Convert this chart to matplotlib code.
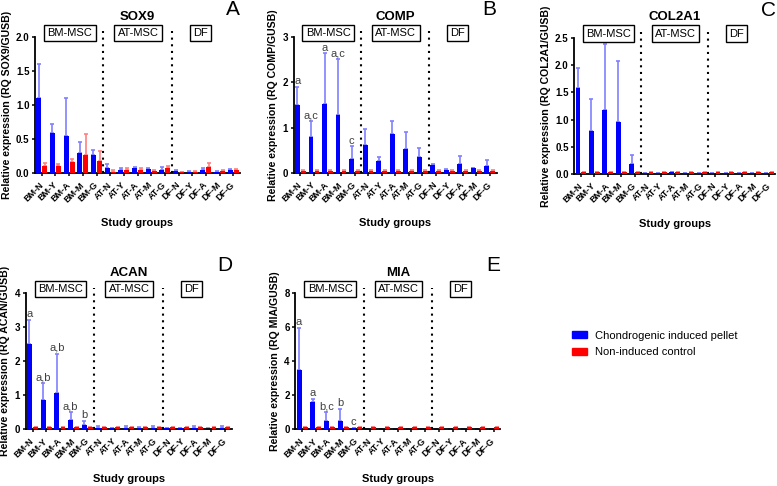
import matplotlib
matplotlib.use('Agg')
import matplotlib.pyplot as plt
import matplotlib.transforms as mtransforms
import numpy as np
from matplotlib.patches import Patch

plt.rcParams['font.family'] = ['Liberation Sans', 'DejaVu Sans']

groups = ['BM-N', 'BM-Y', 'BM-A', 'BM-M', 'BM-G',
          'AT-N', 'AT-Y', 'AT-A', 'AT-M', 'AT-G',
          'DF-N', 'DF-Y', 'DF-A', 'DF-M', 'DF-G']
cell_types = ['BM-MSC', 'AT-MSC', 'DF']
legend_labels = ['Chondrogenic induced pellet', 'Non-induced control']

# SOX9
sox9_ind = [1.10, 0.59, 0.54, 0.29, 0.26, 0.08, 0.05, 0.07, 0.06, 0.05, 0.03, 0.02, 0.05, 0.02, 0.04]
sox9_ind_sd = [0.50, 0.13, 0.56, 0.16, 0.08, 0.05, 0.02, 0.02, 0.02, 0.04, 0.02, 0.01, 0.03, 0.01, 0.02]
sox9_ctl = [0.10, 0.10, 0.16, 0.26, 0.17, 0.02, 0.05, 0.04, 0.03, 0.07, 0.01, 0.02, 0.09, 0.03, 0.04]
sox9_ctl_sd = [0.05, 0.03, 0.05, 0.32, 0.16, 0.02, 0.03, 0.04, 0.02, 0.04, 0.01, 0.01, 0.05, 0.02, 0.02]

# COMP
comp_ind = [1.49, 0.79, 1.53, 1.29, 0.32, 0.61, 0.27, 0.86, 0.54, 0.36, 0.17, 0.07, 0.19, 0.10, 0.16]
comp_ind_sd = [0.41, 0.36, 1.11, 1.23, 0.27, 0.36, 0.08, 0.28, 0.37, 0.19, 0.03, 0.02, 0.18, 0.01, 0.13]
comp_ctl = [0.05] * 15
comp_ctl_sd = [0.01] * 15
comp_letters = ['a', 'a,c', 'a', 'a,c', 'c']

# COL2A1
col2a1_ind = [1.58, 0.79, 1.17, 0.96, 0.18, 0.01, 0.01, 0.03, 0.01, 0.01, 0.01, 0.01, 0.01, 0.01, 0.01]
col2a1_ind_sd = [0.36, 0.59, 1.21, 1.12, 0.16, 0.005, 0.005, 0.01, 0.005, 0.005, 0.005, 0.005, 0.005, 0.005, 0.005]
col2a1_ctl = [0.04] * 15
col2a1_ctl_sd = [0.005] * 15

# ACAN
acan_ind = [2.51, 0.85, 1.05, 0.26, 0.13, 0.04, 0.02, 0.03, 0.03, 0.03, 0.02, 0.02, 0.04, 0.01, 0.03]
acan_ind_sd = [0.71, 0.50, 1.17, 0.24, 0.12, 0.04, 0.01, 0.05, 0.04, 0.05, 0.01, 0.02, 0.05, 0.01, 0.05]
acan_ctl = [0.06] * 15
acan_ctl_sd = [0.01] * 15
acan_letters = ['a', 'a,b', 'a,b', 'a,b', 'b']

# MIA
mia_ind = [3.47, 1.58, 0.45, 0.49, 0.06, 0.01, 0.01, 0.01, 0.01, 0.01, 0.01, 0.01, 0.01, 0.01, 0.01]
mia_ind_sd = [2.50, 0.22, 0.55, 0.70, 0.01, 0.0, 0.0, 0.0, 0.0, 0.0, 0.0, 0.0, 0.0, 0.0, 0.0]
mia_ctl = [0.10] * 15
mia_ctl_sd = [0.01] * 15
mia_letters = ['a', 'a', 'b,c', 'b', 'c']

BLUE = '#0000ff'
RED = '#ff0000'
BLUE_ERR = '#8080ff'
RED_ERR = '#ff8080'


def draw_panel(ax, gene, letter, ind, ind_sd, ctl, ctl_sd, yticks, fmt, letters=None):
    """One GraphPad-style bar panel with group boxes and separators"""
    x = np.arange(len(groups))
    off, w = 0.22, 0.36
    ax.bar(x - off, ind, width=w, color=BLUE, zorder=3)
    ax.bar(x + off, ctl, width=w, color=RED, zorder=3)
    ax.errorbar(x - off, ind, yerr=[np.zeros(len(ind)), ind_sd], fmt='none',
                ecolor=BLUE_ERR, elinewidth=1.2, capsize=1.5, capthick=1.2, zorder=2)
    ax.errorbar(x + off, ctl, yerr=[np.zeros(len(ctl)), ctl_sd], fmt='none',
                ecolor=RED_ERR, elinewidth=1.2, capsize=1.5, capthick=1.2, zorder=2)

    ax.set_xlim(-0.5, len(groups) - 0.5)
    ax.set_ylim(0, yticks[-1])
    ax.set_yticks(yticks)
    ax.set_yticklabels([fmt.format(t) for t in yticks], fontweight='bold', fontsize=7)
    ax.set_xticks(x)
    ax.set_xticklabels(groups, rotation=45, ha='right', va='center', rotation_mode='anchor',
                       fontweight='bold', fontsize=6.5)
    ax.tick_params(width=1.1, length=2.5, pad=1.5)
    ax.tick_params(axis='x', pad=5)

    for s in ['top', 'right']:
        ax.spines[s].set_visible(False)
    for s in ['left', 'bottom']:
        ax.spines[s].set_linewidth(1.3)

    ax.set_ylabel('Relative expression (RQ %s/GUSB)' % gene, fontweight='bold',
                  fontsize=7.6, labelpad=3)
    ax.set_xlabel('Study groups', fontweight='bold', fontsize=8)
    ax.xaxis.set_label_coords(0.5, -0.33)

    # separators between cell types
    for xs in [4.5, 9.5]:
        ax.axvline(xs, ymin=0, ymax=1.04, color='black', lw=1.5,
                   linestyle=(0, (1, 2.2)), clip_on=False, zorder=1)

    trans = mtransforms.blended_transform_factory(ax.transData, ax.transAxes)
    for name, xc in zip(cell_types, [2.05, 7.05, 11.6]):
        ax.text(xc, 1.03, name, transform=trans, ha='center', va='center', fontsize=8,
                bbox=dict(boxstyle='square,pad=0.3', fc='white', ec='black', lw=1.0),
                zorder=5, clip_on=False)

    ax.text(0.5, 1.15, gene, transform=ax.transAxes, ha='center', va='center',
            fontsize=9.5, fontweight='bold')
    ax.text(0.965, 1.2, letter, transform=ax.transAxes, ha='center', va='center',
            fontsize=15)

    if letters:
        for i, lab in enumerate(letters):
            ax.annotate(lab, (x[i] - off, ind[i] + ind_sd[i]), xytext=(0, 0.5),
                        textcoords='offset points', ha='center', va='bottom',
                        fontsize=8, color='#404040')


fig = plt.figure(figsize=(7.77, 4.86), dpi=100)

ax_a = fig.add_axes([0.045, 0.644, 0.264, 0.280])
ax_b = fig.add_axes([0.378, 0.644, 0.261, 0.280])
ax_c = fig.add_axes([0.739, 0.642, 0.259, 0.280])
ax_d = fig.add_axes([0.033, 0.117, 0.265, 0.280])
ax_e = fig.add_axes([0.380, 0.117, 0.264, 0.280])

draw_panel(ax_a, 'SOX9', 'A', sox9_ind, sox9_ind_sd, sox9_ctl, sox9_ctl_sd,
           [0, 0.5, 1.0, 1.5, 2.0], '{:.1f}')
draw_panel(ax_b, 'COMP', 'B', comp_ind, comp_ind_sd, comp_ctl, comp_ctl_sd,
           [0, 1, 2, 3], '{:d}', comp_letters)
draw_panel(ax_c, 'COL2A1', 'C', col2a1_ind, col2a1_ind_sd, col2a1_ctl, col2a1_ctl_sd,
           [0, 0.5, 1.0, 1.5, 2.0, 2.5], '{:.1f}')
draw_panel(ax_d, 'ACAN', 'D', acan_ind, acan_ind_sd, acan_ctl, acan_ctl_sd,
           [0, 1, 2, 3, 4], '{:d}', acan_letters)
draw_panel(ax_e, 'MIA', 'E', mia_ind, mia_ind_sd, mia_ctl, mia_ctl_sd,
           [0, 2, 4, 6, 8], '{:d}', mia_letters)

handles = [Patch(color=BLUE), Patch(color=RED)]
fig.legend(handles, legend_labels, loc='center left', bbox_to_anchor=(0.736, 0.292),
           frameon=False, fontsize=8, handlelength=1.35, handleheight=0.55,
           handletextpad=0.75, labelspacing=0.6, borderpad=0, borderaxespad=0)

fig.savefig('out.png', dpi=100)
